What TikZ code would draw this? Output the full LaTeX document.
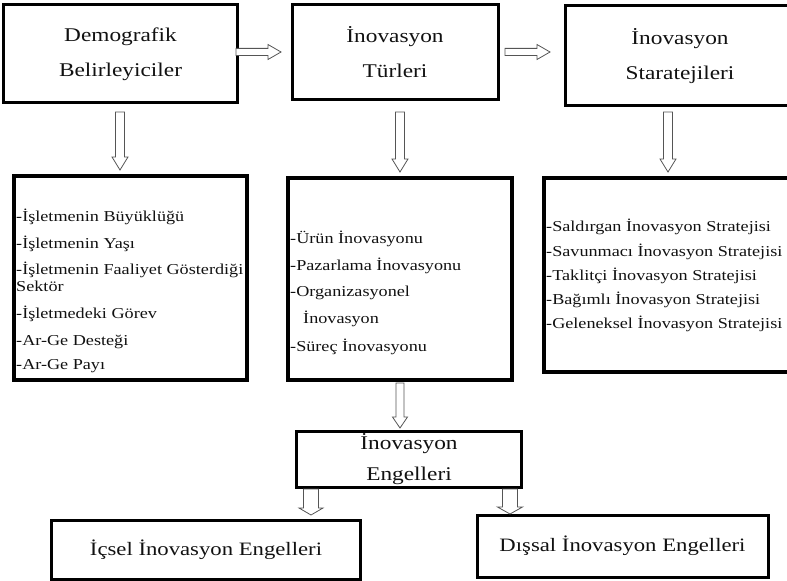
\documentclass[tikz,border=0pt]{standalone}
\usepackage{fontspec}
\setmainfont{Liberation Serif}[FakeStretch=1.2]
\usetikzlibrary{calc}
\definecolor{txt}{HTML}{111111}
\definecolor{arrowgray}{HTML}{555555}
\tikzset{
  box/.style={draw=black, line width=3bp, inner sep=0pt, text=txt, align=center,
    font=\fontsize{19.5}{35}\selectfont},
  listbox/.style={draw=black, line width=3.2bp, inner sep=0pt},
  title/.style={inner sep=0pt, text=txt, align=center, font=\fontsize{19.5}{35}\selectfont},
  item/.style={anchor=west, inner sep=0pt, text=txt, font=\fontsize{15.2}{18}\selectfont,
    text height=11bp, text depth=3.5bp},
  barrow/.style={draw=arrowgray, fill=white, line width=0.8bp, line join=miter},
}
% vertical block arrow: start, end, shaft half width, head half width, head length
\newcommand\blockarrowV[5]{%
  \path[barrow] let \p1=(#1), \p2=(#2) in
   (\x1-#3,\y1) -- (\x1+#3,\y1) -- (\x1+#3,\y2+#5) -- (\x1+#4,\y2+#5) -- (\x1,\y2)
   -- (\x1-#4,\y2+#5) -- (\x1-#3,\y2+#5) -- cycle;}
% horizontal block arrow
\newcommand\blockarrowH[5]{%
  \path[barrow] let \p1=(#1), \p2=(#2) in
   (\x1,\y1+#3) -- (\x2-#5,\y1+#3) -- (\x2-#5,\y1+#4) -- (\x2,\y1) -- (\x2-#5,\y1-#4)
   -- (\x2-#5,\y1-#3) -- (\x1,\y1-#3) -- cycle;}
\begin{document}
\begin{tikzpicture}[x=1bp,y=-1bp]
\useasboundingbox (0,0) rectangle (787,581);
\clip (0,0) rectangle (787,581);

% top row
\node[box, minimum width=233bp, minimum height=98bp] (b1) at (120.5,54) {Demografik\\Belirleyiciler};
\node[box, minimum width=206bp, minimum height=95bp] (b2) at (395,52.5) {İnovasyon\\Türleri};
\node[box, minimum width=250bp, minimum height=100bp] (b3) at (690,56) {};
\node[title] (b3t) at (680,56) {İnovasyon\\Staratejileri};

% list boxes
\node[listbox, minimum width=233bp, minimum height=204bp] (b4) at (130.5,278) {};
\node[listbox, minimum width=224bp, minimum height=202bp] (b5) at (400,279) {};
\node[listbox, minimum width=266bp, minimum height=194bp] (b6) at (677,275) {};

\node[item] (l1) at (16,218) {-İşletmenin Büyüklüğü};
\node[item] (l2) at (16,245) {-İşletmenin Yaşı};
\node[item] (l3) at (16,271) {-İşletmenin Faaliyet Gösterdiği};
\node[item] (l4) at (16,288) {Sektör};
\node[item] (l5) at (16,315) {-İşletmedeki Görev};
\node[item] (l6) at (16,342) {-Ar-Ge Desteği};
\node[item] (l7) at (16,366) {-Ar-Ge Payı};

\node[item] (m1) at (290,240) {-Ürün İnovasyonu};
\node[item] (m2) at (290,267) {-Pazarlama İnovasyonu};
\node[item] (m3) at (290,293) {-Organizasyonel};
\node[item] (m4) at (303,320) {İnovasyon};
\node[item] (m5) at (290,348) {-Süreç İnovasyonu};

\node[item] (s1) at (546,228) {-Saldırgan İnovasyon Stratejisi};
\node[item] (s2) at (546,252.5) {-Savunmacı İnovasyon Stratejisi};
\node[item] (s3) at (546,277) {-Taklitçi İnovasyon Stratejisi};
\node[item] (s4) at (546,301) {-Bağımlı İnovasyon Stratejisi};
\node[item] (s5) at (546,325) {-Geleneksel İnovasyon Stratejisi};

% lower boxes
\node[box, minimum width=225bp, minimum height=56bp, font=\fontsize{19.5}{31}\selectfont] (b7) at (409,459) {İnovasyon\\Engelleri};
\node[box, minimum width=308bp, minimum height=59bp, font=\fontsize{19}{23}\selectfont] (b8) at (206,549.5) {İçsel İnovasyon Engelleri};
\node[box, minimum width=291bp, minimum height=62bp, font=\fontsize{19}{23}\selectfont] (b9) at (622.5,546) {Dışsal İnovasyon Engelleri};

% arrow end points
\coordinate (h1s) at (236,52);  \coordinate (h1e) at (281,52);
\coordinate (h2s) at (505,52);  \coordinate (h2e) at (550,52);
\coordinate (v1s) at (120,112); \coordinate (v1e) at (120,170);
\coordinate (v2s) at (400,112); \coordinate (v2e) at (400,172);
\coordinate (v3s) at (668,112); \coordinate (v3e) at (668,172);
\coordinate (v4s) at (400,383); \coordinate (v4e) at (400,428);
\coordinate (v5s) at (311,489); \coordinate (v5e) at (311,515);
\coordinate (v6s) at (510,489); \coordinate (v6e) at (510,514);

\blockarrowH{h1s}{h1e}{3.6bp}{7.5bp}{13bp}
\blockarrowH{h2s}{h2e}{3.6bp}{7.5bp}{13bp}
\blockarrowV{v1s}{v1e}{4.5bp}{8bp}{13bp}
\blockarrowV{v2s}{v2e}{4.5bp}{8bp}{13bp}
\blockarrowV{v3s}{v3e}{4.5bp}{8bp}{13bp}
\blockarrowV{v4s}{v4e}{4bp}{7.5bp}{11bp}
\blockarrowV{v5s}{v5e}{7.5bp}{12bp}{7bp}
\blockarrowV{v6s}{v6e}{7.5bp}{12.5bp}{7bp}
\end{tikzpicture}
\end{document}
